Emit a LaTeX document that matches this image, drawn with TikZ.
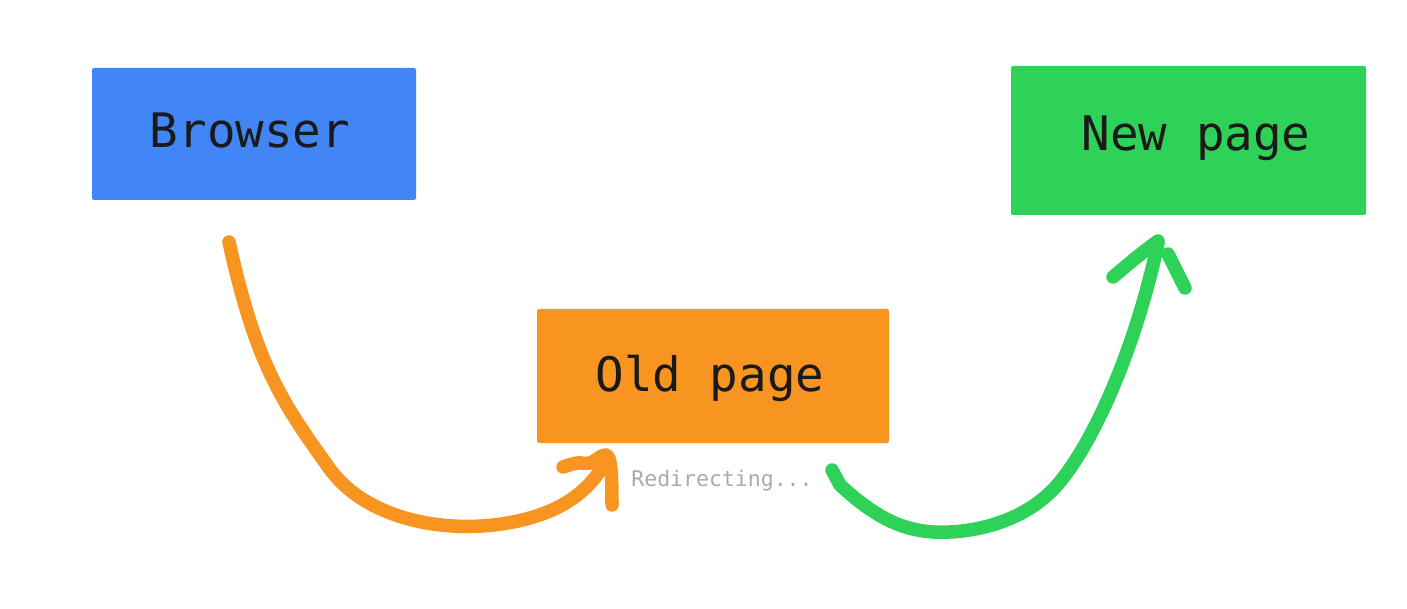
\documentclass[tikz,border=0pt]{standalone}
\usepackage{fontspec}
\setmonofont{DejaVu Sans Mono}
\definecolor{gblue}{RGB}{66,134,245}
\definecolor{gorange}{RGB}{247,149,32}
\definecolor{ggreen}{RGB}{46,210,88}
\definecolor{gtext}{RGB}{26,26,26}
\definecolor{ggray}{RGB}{170,170,170}
\begin{document}
\begin{tikzpicture}[x=1pt,y=-1pt,
  boxstyle/.style={draw=none,rounded corners=2pt,inner sep=0pt,text=gtext,
    font=\ttfamily\fontsize{47.5}{50}\selectfont},
  stroke/.style={line width=13.5pt,line cap=round,line join=round}]
\useasboundingbox (0,0) rectangle (1407,609);
\fill[white] (0,0) rectangle (1407,609);
% boxes
\fill[gblue,rounded corners=2pt] (92,68) rectangle (416,200);
\node[boxstyle,anchor=center] (browser) at (250,131) {Browser};
\fill[ggreen,rounded corners=2pt] (1011,66) rectangle (1366,215);
\node[boxstyle,anchor=center] (newpage) at (1196,138) {New page};
\fill[gorange,rounded corners=2pt] (537,309) rectangle (889,443);
\node[boxstyle,anchor=center] (oldpage) at (710,378) {Old page};
\node[text=ggray,font=\ttfamily\fontsize{21.5}{24}\selectfont,anchor=center] (redir) at (722,481) {Redirecting...};
% orange curve
\coordinate (ostart) at (229,242);
\coordinate (otip) at (607,458);
\draw[stroke,gorange] (ostart) .. controls (255,360) and (280,400) .. (327,465)
  .. controls (370,530) and (480,540) .. (550,511)
  .. controls (580,498) and (598,478) .. (otip);
\draw[stroke,gorange] plot[smooth,tension=0.6] coordinates {
  (563,467) (577,463) (590,463) (606,455) (611,470) (612,505)};
% green curve
\coordinate (gstart) at (832,470);
\coordinate (gtip) at (1158,243);
\draw[stroke,ggreen] (gstart) -- (840,485)
  .. controls (880,522) and (910,534) .. (950,532)
  .. controls (990,530) and (1035,515) .. (1063,478)
  .. controls (1095,437) and (1135,350) .. (gtip);
\draw[stroke,ggreen] plot[smooth,tension=0.6] coordinates {
  (1113,277) (1137,257) (1158,241)};
\draw[stroke,ggreen] (1168,254) -- (1185,288);
\end{tikzpicture}
\end{document}
